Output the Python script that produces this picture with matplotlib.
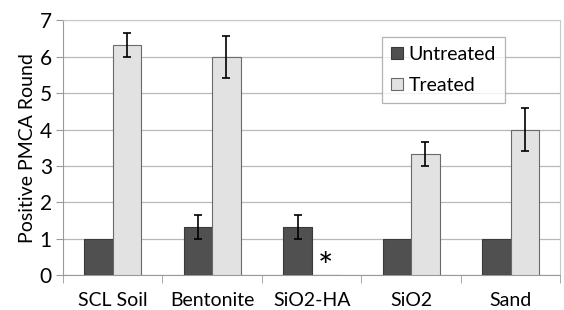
import numpy as np
import matplotlib.pyplot as plt

plt.rcParams['font.family'] = ['Lato', 'DejaVu Sans']

categories = ['SCL Soil', 'Bentonite', 'SiO2-HA', 'SiO2', 'Sand']
untreated = [1.0, 1.33, 1.33, 1.0, 1.0]
untreated_err = [np.nan, 0.33, 0.33, np.nan, np.nan]
treated = [6.33, 6.0, 0.0, 3.33, 4.0]
treated_err = [0.33, 0.58, np.nan, 0.33, 0.58]
no_positive = [False, False, True, False, False]

fig = plt.figure(figsize=(5.64, 3.10), dpi=100)
ax = fig.add_axes([0.1117, 0.113, 0.882, 0.821])

x = np.arange(len(categories))
w = 0.285

ax.bar(x - w / 2, untreated, w, color='#505050', edgecolor='#3a3a3a', linewidth=0.8,
       label='Untreated', zorder=3)
ax.bar(x + w / 2, treated, w, color='#e2e2e2', edgecolor='#6a6a6a', linewidth=0.8,
       label='Treated', zorder=3)
ax.errorbar(x - w / 2, untreated, yerr=untreated_err, fmt='none', ecolor='black',
            elinewidth=1.2, capsize=3, capthick=1.2, zorder=4)
ax.errorbar(x + w / 2, treated, yerr=treated_err, fmt='none', ecolor='black',
            elinewidth=1.2, capsize=3, capthick=1.2, zorder=4)

for i, flag in enumerate(no_positive):
    if flag:
        ax.text(x[i] + w / 2, 0.18, '*', ha='center', va='center', fontsize=26,
                color='black', zorder=5)

ax.set_xlim(-0.5, len(categories) - 0.5)
ax.set_ylim(0, 7)
ax.set_yticks(range(0, 8))
ax.tick_params(axis='y', labelsize=15, length=5, color='#9a9a9a', pad=3)

ax.set_xticks(x)
ax.set_xticklabels(categories, fontsize=14)
ax.tick_params(axis='x', length=0, pad=12)
ax.set_xticks(np.arange(-0.5, len(categories), 1.0), minor=True)
ax.tick_params(axis='x', which='minor', length=6, color='#9a9a9a')

ax.yaxis.grid(True, color='#b8b8b8', linewidth=0.9, zorder=0)
ax.set_axisbelow(True)
for side in ['left', 'bottom']:
    ax.spines[side].set_color('#9a9a9a')
for side in ['top', 'right']:
    ax.spines[side].set_color('#c8c8c8')
    ax.spines[side].set_linewidth(0.8)

ax.set_ylabel('Positive PMCA Round', fontsize=14, labelpad=3)

leg = ax.legend(loc='upper left', bbox_to_anchor=(0.622, 0.974), fontsize=14,
                frameon=True, fancybox=False, edgecolor='#a0a0a0',
                handlelength=0.6, handleheight=0.6, handletextpad=0.3,
                borderpad=0.45, labelspacing=0.75)
leg.get_frame().set_linewidth(0.9)

fig.savefig('out.png', dpi=100)
